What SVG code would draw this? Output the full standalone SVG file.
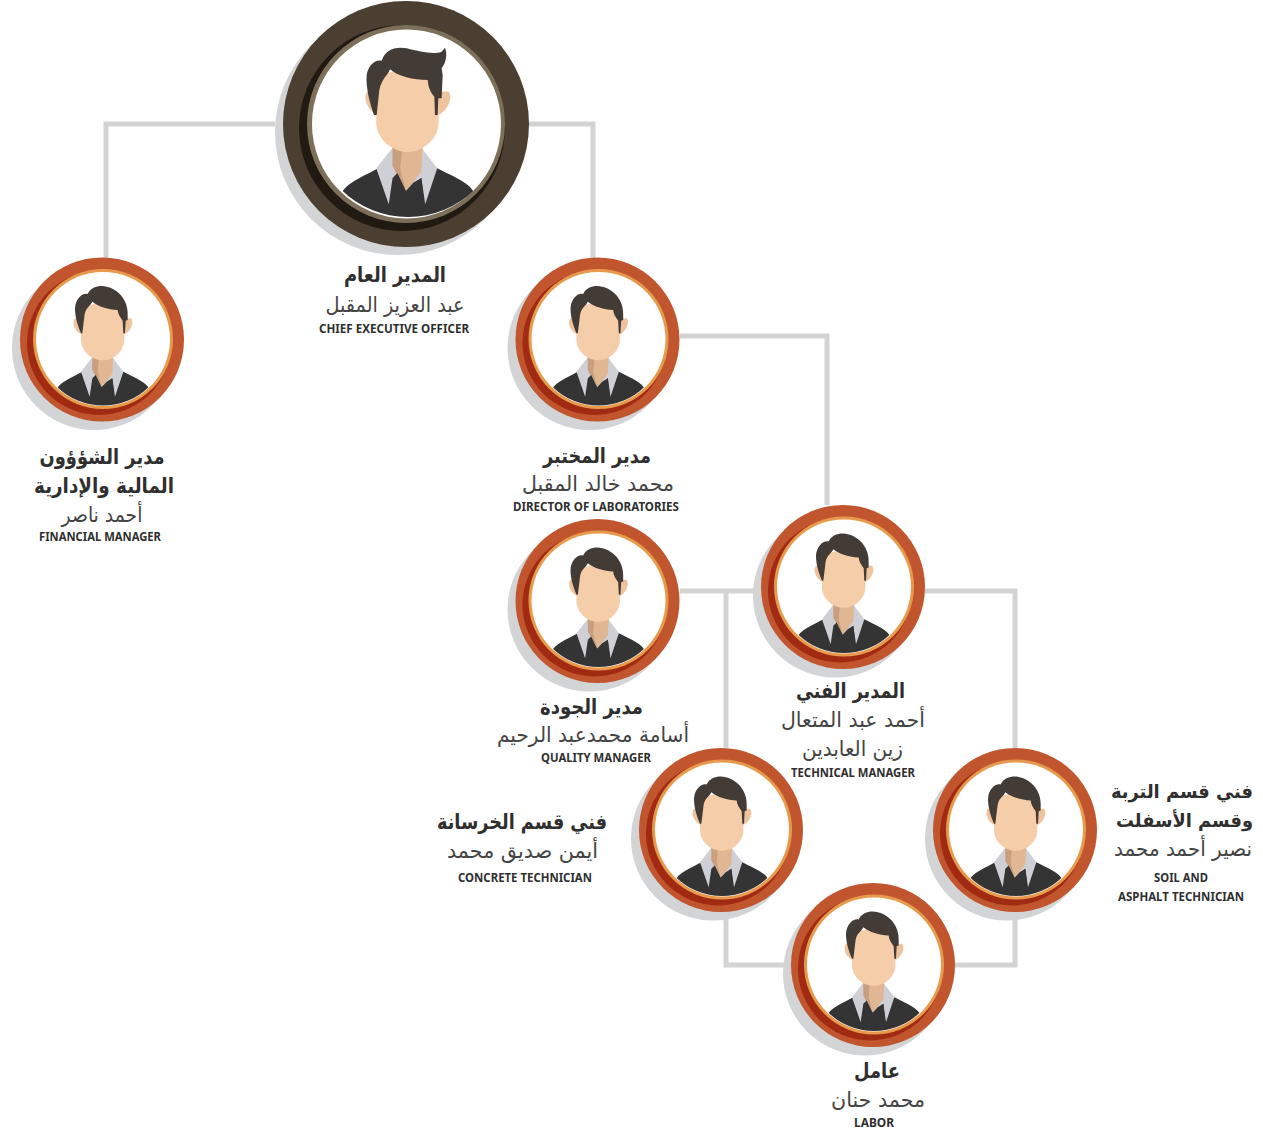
<svg xmlns="http://www.w3.org/2000/svg" width="1263" height="1131" viewBox="0 0 1263 1131">
<style>
.sh{fill:#d3d4d6}
.o{fill:#c1552d}.c{fill:#a02a12}.i{fill:#e89a4c}
.co{fill:#4a3f30}.cc{fill:#201a13}.ci{fill:#7d705a}
.w{fill:#fff}
.ln{fill:none;stroke:#d3d3d3;stroke-width:5}
text{text-anchor:middle;fill:#333;font-family:"DejaVu Sans",sans-serif}
.t{font-size:21px;font-weight:700;fill:#2f2f2f}
.ts{font-size:19px;font-weight:700;fill:#2f2f2f}
.n{font-size:21px;font-weight:400;fill:#444}
.e{font-family:"Noto Sans","Liberation Sans",sans-serif;font-size:12px;font-weight:700;fill:#2f2f2f}
</style>
<defs>
<clipPath id="clip"><circle cx="294" cy="268.5" r="198"/></clipPath>
<g id="base" transform="translate(-97 -89.5) scale(.33333)">
<g clip-path="url(#clip)">
<path d="M158 412C175 390 210 378 232 365L355 365C378 378 415 390 430 412L430 480L158 480Z" fill="#343434"/>
<path d="M262 322L228 365L254 440L262 385L290 412L322 385L330 440L355 365L322 322Z" fill="#cfd0d5"/>
<path d="M262 315L325 315L322 372L290 412L262 360Z" fill="#e0b792"/>
<path d="M262 315L282 322L278 365L290 412L262 360Z" fill="#c9a07f"/>
<path d="M262 385L272 375L290 412L305 395L322 385L328 440L300 440Z" fill="#343434"/>
</g>
<path d="M210 205C200 215 206 240 228 253L360 253C380 240 388 215 378 205Z" fill="#f0c39f"/>
<path d="M228 190C240 150 340 150 358 190L358 270C358 300 330 330 293 331C256 330 228 300 228 270Z" fill="#f5cda8"/>
</g>
<path id="hair" transform="translate(-97 -89.5) scale(.33333)" d="M228 250C220 230 210 205 210 175C212 145 232 128 248 132C258 110 285 105 305 110C340 118 370 150 368 195L368 210L362 212L360 250L355 250L353 212C345 200 340 195 338 180C310 178 280 170 262 155C255 170 240 172 238 200L232 250Z" fill="#433b35"/>
<g id="sm">
<circle class="sh" cx="-8" cy="8.500" r="82"/>
<circle class="o" r="82"/>
<circle class="c" cx="-3" cy="3.500" r="72"/>
<circle class="i" cx="1" cy="-0.500" r="70"/>
<circle class="w" cx="1" cy="-0.500" r="67"/>
<use href="#base"/><use href="#hair"/>
</g>
</defs>

<g id="connectors">
<path class="ln" d="M275 124H106V258"/>
<path class="ln" d="M529 124H593V258"/>
<path class="ln" d="M680 336H827V505"/>
<path class="ln" d="M680 591H761M726 591V748"/>
<path class="ln" d="M925 591H1015V748"/>
<path class="ln" d="M726 912V965H791"/>
<path class="ln" d="M1015 912V965H955"/>
</g>

<g id="ceo">
<circle class="sh" cx="398" cy="132" r="123"/>
<circle class="co" cx="406" cy="124" r="123"/>
<circle class="cc" cx="402" cy="128" r="103"/>
<circle class="ci" cx="406" cy="124" r="99"/>
<circle class="w" cx="406.500" cy="124" r="94.500"/>
<g transform="translate(406.500 122) scale(1.44)"><use href="#base"/></g>
<path transform="translate(270 0) scale(.33333)" d="M312 345C300 310 287 265 290 225C295 195 315 178 335 182C345 150 375 138 410 145C450 155 490 165 515 155L525 143C532 160 530 185 515 205L518 225L515 295L505 295L503 345L495 345L493 290C480 275 475 260 473 240C430 240 385 230 360 208C355 225 335 235 328 270L320 345Z" fill="#433b35"/>
<text class="t" x="395" y="282" textLength="102" lengthAdjust="spacingAndGlyphs">المدير العام</text>
<text class="n" x="395" y="312" textLength="139" lengthAdjust="spacingAndGlyphs">عبد العزيز المقبل</text>
<text class="e" x="394" y="333" textLength="150" lengthAdjust="spacingAndGlyphs">CHIEF EXECUTIVE OFFICER</text>
</g>

<g id="financial">
<use href="#sm" x="102" y="339.500"/>
<text class="t" x="102" y="463.500" textLength="125" lengthAdjust="spacingAndGlyphs">مدير الشؤؤون</text>
<text class="t" x="104" y="492.500" textLength="140" lengthAdjust="spacingAndGlyphs">المالية والإدارية</text>
<text class="n" x="102" y="522" textLength="81" lengthAdjust="spacingAndGlyphs">أحمد ناصر</text>
<text class="e" x="100" y="541" textLength="122" lengthAdjust="spacingAndGlyphs">FINANCIAL MANAGER</text>
</g>

<g id="laboratories">
<use href="#sm" x="597.500" y="339.500"/>
<text class="t" x="597" y="462.500" textLength="108" lengthAdjust="spacingAndGlyphs">مدير المختبر</text>
<text class="n" x="598" y="491" textLength="152" lengthAdjust="spacingAndGlyphs">محمد خالد المقبل</text>
<text class="e" x="596" y="511" textLength="166" lengthAdjust="spacingAndGlyphs">DIRECTOR OF LABORATORIES</text>
</g>

<g id="quality">
<use href="#sm" x="597.500" y="601"/>
<text class="t" x="591.500" y="713.500" textLength="103" lengthAdjust="spacingAndGlyphs">مدير الجودة</text>
<text class="n" x="593" y="742" textLength="192" lengthAdjust="spacingAndGlyphs">أسامة محمدعبد الرحيم</text>
<text class="e" x="596" y="762" textLength="110" lengthAdjust="spacingAndGlyphs">QUALITY MANAGER</text>
</g>

<g id="technical">
<use href="#sm" x="843" y="587"/>
<text class="t" x="850.500" y="697.500" textLength="109" lengthAdjust="spacingAndGlyphs">المدير الفني</text>
<text class="n" x="853" y="727" textLength="144" lengthAdjust="spacingAndGlyphs">أحمد عبد المتعال</text>
<text class="n" x="852.500" y="756" textLength="101" lengthAdjust="spacingAndGlyphs">زين العابدين</text>
<text class="e" x="853" y="777" textLength="124" lengthAdjust="spacingAndGlyphs">TECHNICAL MANAGER</text>
</g>

<g id="concrete">
<use href="#sm" x="721" y="830"/>
<text class="t" x="522" y="828.500" textLength="170" lengthAdjust="spacingAndGlyphs">فني قسم الخرسانة</text>
<text class="n" x="522.500" y="858" textLength="151" lengthAdjust="spacingAndGlyphs">أيمن صديق محمد</text>
<text class="e" x="525" y="882" textLength="134" lengthAdjust="spacingAndGlyphs">CONCRETE TECHNICIAN</text>
</g>

<g id="soil">
<use href="#sm" x="1015" y="830"/>
<text class="ts" x="1182" y="797.500" textLength="142" lengthAdjust="spacingAndGlyphs">فني قسم التربة</text>
<text class="ts" x="1184.500" y="826.500" textLength="137" lengthAdjust="spacingAndGlyphs">وقسم الأسفلت</text>
<text class="n" x="1183" y="856" textLength="138" lengthAdjust="spacingAndGlyphs">نصير أحمد محمد</text>
<text class="e" x="1181" y="882" textLength="54" lengthAdjust="spacingAndGlyphs">SOIL AND</text>
<text class="e" x="1181" y="901" textLength="126" lengthAdjust="spacingAndGlyphs">ASPHALT TECHNICIAN</text>
</g>

<g id="labor">
<use href="#sm" x="873" y="965"/>
<text class="t" x="877" y="1078" textLength="46" lengthAdjust="spacingAndGlyphs">عامل</text>
<text class="n" x="878" y="1107" textLength="94" lengthAdjust="spacingAndGlyphs">محمد حنان</text>
<text class="e" x="874" y="1127" textLength="40" lengthAdjust="spacingAndGlyphs">LABOR</text>
</g>
</svg>
